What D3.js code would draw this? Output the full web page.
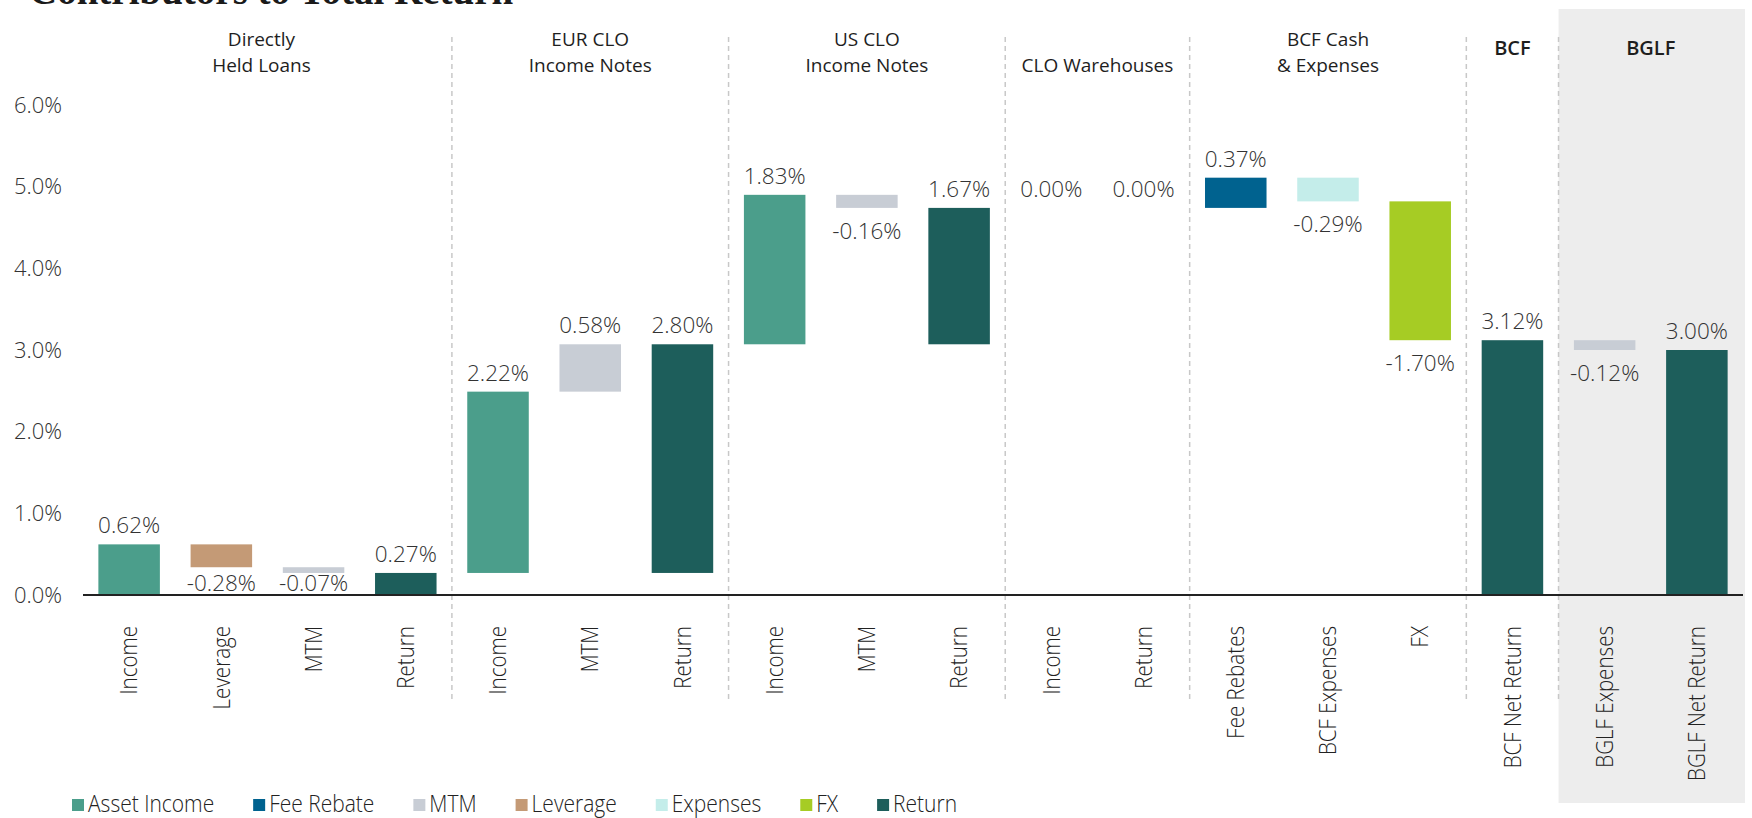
<!DOCTYPE html>
<html lang="en">
<head>
<meta charset="UTF-8">
<title>Contributors to Total Return</title>
<script src="https://cdnjs.cloudflare.com/ajax/libs/d3/7.8.5/d3.min.js"></script>
<style>
  html, body { margin: 0; padding: 0; background: #fff; }
  svg { display: block; }
  text { font-family: "Open Sans", sans-serif; }
</style>
</head>
<body>
<svg id="chart" width="1752" height="818"></svg>
<script>
    const categories = ["Income", "Leverage", "MTM", "Return", "Income", "MTM", "Return", "Income", "MTM", "Return",
        "Income", "Return", "Fee Rebates", "BCF Expenses", "FX", "BCF Net Return", "BGLF Expenses", "BGLF Net Return"];
    const values = [0.62, -0.28, -0.07, 0.27, 2.22, 0.58, 2.80, 1.83, -0.16, 1.67, 0.00, 0.00, 0.37, -0.29, -1.70, 3.12, -0.12, 3.00];
    const barTypes = ["Asset Income", "Leverage", "MTM", "Return", "Asset Income", "MTM", "Return", "Asset Income", "MTM", "Return",
        "Asset Income", "Return", "Fee Rebate", "Expenses", "FX", "Return", "MTM", "Return"];
    // step = sits on the running total, group = total of its own group, net = drawn from zero
    const barModes = ["step", "step", "step", "group", "step", "step", "group", "step", "step", "group",
        "step", "group", "step", "step", "step", "net", "step", "net"];
    const groupLabels = [["Directly", "Held Loans"], ["EUR CLO", "Income Notes"], ["US CLO", "Income Notes"],
        ["CLO Warehouses"], ["BCF Cash", "& Expenses"], ["BCF"], ["BGLF"]];
    const groupSizes = [4, 3, 3, 2, 3, 1, 2];
    const legendNames = ["Asset Income", "Fee Rebate", "MTM", "Leverage", "Expenses", "FX", "Return"];
    const legendColors = ["#4b9e8b", "#00628f", "#c8cdd5", "#c49a76", "#c4edea", "#a6cc24", "#1d5e5b"];
    const yTicks = [0, 1, 2, 3, 4, 5, 6];

    const svg = d3.select("#chart");
    const colour = d3.scaleOrdinal().domain(legendNames).range(legendColors);
    const narrow = 0.875; // horizontal squeeze for the condensed labels

    const x = d3.scaleBand()
        .domain(d3.range(categories.length))
        .range([83, 1743])
        .paddingInner(0.333)
        .paddingOuter(0.1667);
    const y = d3.scaleLinear().domain([0, 6]).range([595, 105]);

    // group index of each bar
    const groupOf = [];
    groupSizes.forEach((n, g) => { for (let i = 0; i < n; i++) groupOf.push(g); });
    const groupFirst = groupSizes.map((n, g) => d3.sum(groupSizes.slice(0, g)));

    // running totals for the waterfall
    let running = 0, groupStart = 0;
    const bars = categories.map((name, i) => {
        if (i === 0 || groupOf[i] !== groupOf[i - 1]) groupStart = running;
        let from;
        if (barModes[i] === "step") from = running;
        else if (barModes[i] === "group") from = groupStart;
        else from = 0;
        const to = from + values[i];
        running = to;
        return { i, name, value: values[i], type: barTypes[i], from, to };
    });

    const gap = (x.step() - x.bandwidth()) / 2;
    const groupLeft = g => x(groupFirst[g]) - gap;
    const groupRight = g => x(groupFirst[g] + groupSizes[g] - 1) + x.bandwidth() + gap;

    // title, mostly cut off at the top
    svg.append("text")
        .attr("x", 29).attr("y", 4)
        .style("font-family", "'Liberation Serif', serif")
        .style("font-size", "39px")
        .style("font-weight", "bold")
        .attr("fill", "#1a1a1a")
        .text("Contributors to Total Return");

    // shaded BGLF panel
    const lastGroup = groupSizes.length - 1;
    svg.append("rect")
        .attr("x", groupLeft(lastGroup))
        .attr("y", 9)
        .attr("width", 1745 - groupLeft(lastGroup))
        .attr("height", 794)
        .attr("fill", "#ededed");

    // dashed separators between groups
    svg.append("g")
        .selectAll("line")
        .data(d3.range(1, groupSizes.length))
        .join("line")
        .attr("x1", g => groupLeft(g)).attr("x2", g => groupLeft(g))
        .attr("y1", 37).attr("y2", 702)
        .attr("stroke", "#c8c8c8")
        .attr("stroke-width", 1.5)
        .attr("stroke-dasharray", "5,4");

    // group headers
    const headers = svg.append("g").selectAll("text")
        .data(groupLabels)
        .join("text")
        .attr("text-anchor", "middle")
        .attr("fill", "#1e1e1e")
        .style("font-size", (d, g) => g >= 5 ? "20px" : "19px")
        .style("font-weight", (d, g) => g >= 5 ? 600 : 400)
        .attr("x", (d, g) => (groupLeft(g) + groupRight(g)) / 2 - (g === 0 ? 6 : 0))
        .attr("y", (d, g) => g >= 5 ? 55 : 72 - (d.length - 1) * 26);
    headers.selectAll("tspan")
        .data(d => d)
        .join("tspan")
        .attr("x", function () { return d3.select(this.parentNode).attr("x"); })
        .attr("dy", (d, k) => k === 0 ? 0 : 26)
        .text(d => d);

    // y axis labels
    const yAxis = svg.append("g")
        .attr("transform", "translate(62,0)")
        .call(d3.axisLeft(y).tickValues(yTicks).tickFormat(d => d.toFixed(1) + "%").tickSize(0).tickPadding(0));
    yAxis.select(".domain").remove();
    yAxis.selectAll("text")
        .style("font-family", "'Open Sans', sans-serif")
        .style("font-size", "22px")
        .style("font-weight", 300)
        .attr("fill", "#333");

    // bars
    svg.append("g")
        .selectAll("rect")
        .data(bars)
        .join("rect")
        .attr("x", d => x(d.i))
        .attr("width", x.bandwidth())
        .attr("y", d => y(Math.max(d.from, d.to)))
        .attr("height", d => Math.abs(y(d.from) - y(d.to)))
        .attr("fill", d => colour(d.type));

    // value labels
    svg.append("g")
        .selectAll("text")
        .data(bars)
        .join("text")
        .attr("text-anchor", "middle")
        .attr("x", d => x(d.i) + x.bandwidth() / 2)
        .attr("y", d => d.value >= 0
            ? y(Math.max(d.from, d.to)) - 11
            : Math.min(y(Math.min(d.from, d.to)) + 31, y(0) - 4))
        .style("font-size", "22.5px")
        .style("font-weight", 300)
        .attr("fill", "#333")
        .text(d => d.value.toFixed(2) + "%");

    // baseline
    svg.append("line")
        .attr("x1", 83).attr("x2", 1743)
        .attr("y1", y(0)).attr("y2", y(0))
        .attr("stroke", "#222")
        .attr("stroke-width", 2);

    // category labels, rotated
    const xAxis = svg.append("g")
        .attr("transform", `translate(0,${y(0)})`)
        .call(d3.axisBottom(x).tickFormat(i => categories[i]).tickSize(0));
    xAxis.select(".domain").remove();
    xAxis.selectAll("text")
        .attr("transform", `rotate(-90) scale(${narrow},1)`)
        .attr("text-anchor", "end")
        .attr("x", -31 / narrow)
        .attr("y", 0)
        .attr("dy", "0.35em")
        .style("font-family", "'Open Sans', sans-serif")
        .style("font-size", "23.5px")
        .style("font-weight", 300)
        .attr("fill", "#222");

    // legend
    const legend = svg.append("g");
    let lx = 72;
    legendNames.forEach((name, k) => {
        legend.append("rect")
            .attr("x", lx).attr("y", 799)
            .attr("width", 12).attr("height", 12)
            .attr("fill", legendColors[k]);
        const t = legend.append("text")
            .attr("transform", `translate(${lx + 16},812) scale(${narrow},1)`)
            .style("font-size", "24px")
            .style("font-weight", 300)
            .attr("fill", "#222")
            .text(name);
        lx += 16 + t.node().getComputedTextLength() * narrow + 39;
    });
</script>
</body>
</html>
